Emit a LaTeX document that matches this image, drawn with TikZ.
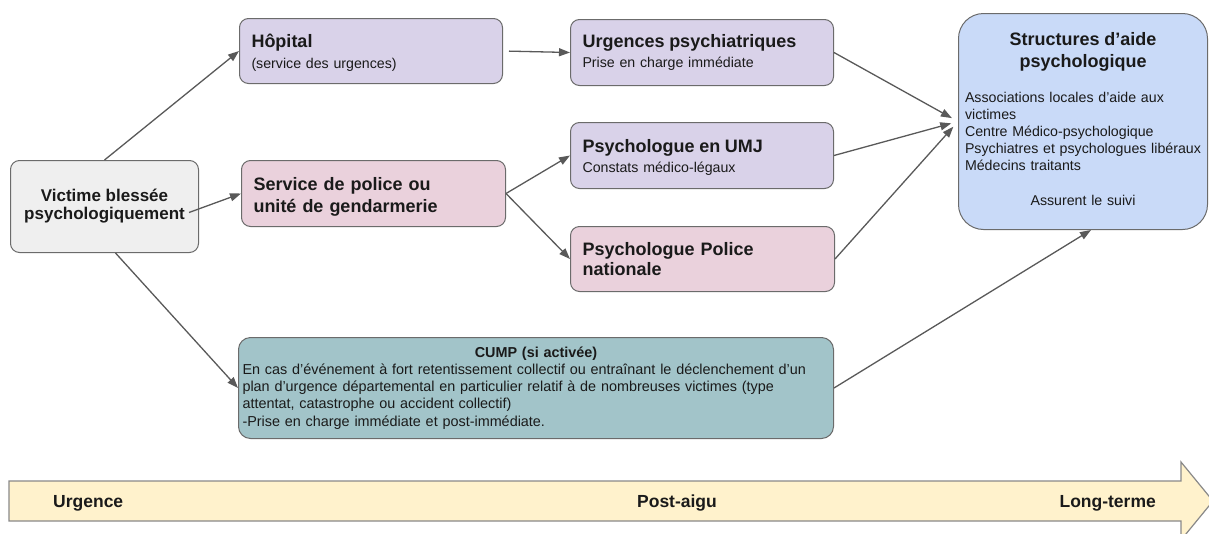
\documentclass[tikz,border=0pt]{standalone}
\usepackage{fontspec}
\setmainfont{Liberation Sans}
\usetikzlibrary{arrows.meta}

\definecolor{greyfill}{HTML}{EFEFEF}
\definecolor{lavender}{HTML}{D9D2E9}
\definecolor{rosefill}{HTML}{EAD1DC}
\definecolor{tealfill}{HTML}{A2C4C9}
\definecolor{bluefill}{HTML}{C9DAF8}
\definecolor{sandfill}{HTML}{FFF2CC}
\definecolor{edgec}{HTML}{6B6B6B}
\definecolor{linkc}{HTML}{595959}
\definecolor{inkc}{HTML}{1A1A1A}

% type sizes (1pt = 1px of the final picture)
\newcommand\hdfont{\fontsize{18}{21}\selectfont\bfseries}
\newcommand\smfont{\fontsize{14.2}{19.5}\selectfont}
\newcommand\cumpfont{\fontsize{14.4}{17.2}\selectfont}
\newcommand\phasefont{\fontsize{17.5}{20}\selectfont\bfseries}

\tikzset{
  card/.style={draw=edgec, line width=1pt, rounded corners=9pt,
    inner xsep=12pt, inner ysep=0pt, align=left, anchor=north west,
    text=inkc, font=\smfont},
  link/.style={draw=linkc, line width=1.3pt,
    -{Triangle[length=11pt,width=8pt]}},
  phase/.style={text=inkc, font=\phasefont, inner sep=0pt},
}

\begin{document}
\begin{tikzpicture}[x=1pt,y=-1pt]
\useasboundingbox (0,0) rectangle (1209,533);

% time line along the bottom
\draw[draw=edgec!80, fill=sandfill, line width=1.2pt]
  (9,481) -- (1181,481) -- (1181,462) -- (1213,501) -- (1181,540)
  -- (1181,521) -- (9,521) -- cycle;
\node[phase, anchor=west] (tUrg) at (53,503) {Urgence};
\node[phase] (tPost) at (677,503) {Post-aigu};
\node[phase, anchor=east] (tLong) at (1156,503) {Long-terme};

% boxes
\node[card, fill=greyfill, align=center, inner xsep=4pt,
      minimum width=188, minimum height=92,
      font=\fontsize{17}{18}\selectfont\bfseries] (victime) at (10,160)
  {Victime blessée\\psychologiquement};

\node[card, fill=lavender, text width=239, minimum height=65] (hop) at (239,18)
  {{\hdfont\rule{0pt}{17.5pt}Hôpital}\\[1.5pt](service des urgences)};

\node[card, fill=rosefill, text width=240, minimum height=66,
      font=\fontsize{18}{22}\selectfont\bfseries] (service) at (241,160)
  {\rule{0pt}{19pt}Service de police ou\\unité de gendarmerie};

\node[card, fill=lavender, text width=239, minimum height=66] (urg) at (570,19)
  {{\hdfont Urgences psychiatriques}\\Prise en charge immédiate};

\node[card, fill=lavender, text width=239, minimum height=66] (umj) at (570,122)
  {{\hdfont\rule{0pt}{16.5pt}Psychologue en UMJ}\\[1pt]Constats médico-légaux};

\node[card, fill=rosefill, text width=240, minimum height=65,
      font=\fontsize{18}{20}\selectfont\bfseries] (police) at (570,226)
  {Psychologue Police\\nationale};

\node[card, fill=tealfill, text width=587, inner xsep=4pt,
      minimum height=101, rounded corners=12pt, font=\cumpfont] (cump) at (238,337)
  {\makebox[\linewidth]{\bfseries CUMP (si activée)}\\
   En cas d’événement à fort retentissement collectif ou entraînant le déclenchement d’un\\
   plan d’urgence départemental en particulier relatif à de nombreuses victimes (type\\
   attentat, catastrophe ou accident collectif)\\
   -Prise en charge immédiate et post-immédiate.};

\node[card, fill=bluefill, text width=236, inner xsep=6.5pt,
      minimum height=216, rounded corners=25pt,
      font=\fontsize{14.2}{17}\selectfont] (struct) at (958,13)
  {\makebox[\linewidth]{\hdfont Structures d’aide}\\[5pt]
   \makebox[\linewidth]{\hdfont psychologique}\\[18.5pt]
   Associations locales d’aide aux\\
   victimes\\
   Centre Médico-psychologique\\
   \mbox{Psychiatres et psychologues libéraux}\\
   Médecins traitants\\[18pt]
   \makebox[\linewidth]{Assurent le suivi}\rule[-5pt]{0pt}{0pt}};

% connectors
\draw[link] (victime.north) -- (hop.west);
\draw[link] ([xshift=-10pt,yshift=-6pt]victime.east) -- (service.west);
\draw[link] ([xshift=11pt]victime.south) -- (cump.west);
\draw[link, shorten <=6pt] (hop.east) -- (urg.west);
\draw[link] (service.east) -- (umj.west);
\draw[link] (service.east) -- (police.west);
\draw[link, shorten >=7pt] (urg.east) -- (struct.west);
\draw[link, shorten >=7pt] (umj.east) -- (struct.west);
\draw[link, shorten >=7pt] (police.east) -- (struct.west);
\draw[link] (cump.east) -- ([xshift=8pt]struct.south);
\end{tikzpicture}
\end{document}
